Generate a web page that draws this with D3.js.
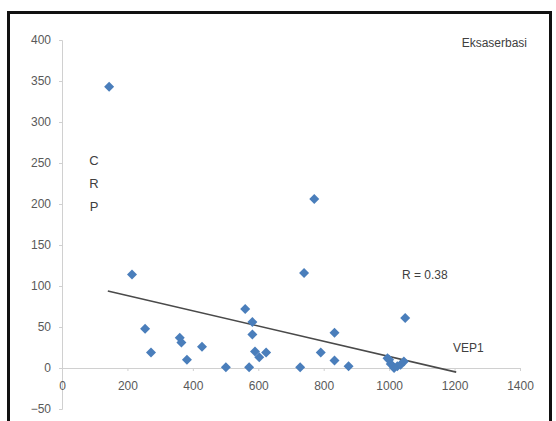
<!DOCTYPE html>
<html><head><meta charset="utf-8">
<script src="https://cdn.jsdelivr.net/npm/d3@7"></script>
<style>html,body{margin:0;padding:0;background:#fff;}svg{display:block;}</style>
</head><body>
<script>
// Data: VEP1 (x) vs CRP (y)
const vep1 = [144, 214, 254, 272, 360, 365, 382, 428, 501, 560, 582, 582, 572, 590, 603, 624, 728, 791, 833, 833, 876, 771, 740, 1049, 995, 1005, 1015, 1025, 1035, 1045, 1000];
const crp  = [343, 114,  48,  19,  37,  31,  10,  26,   1,  72,  56,  41,   1,  20,  13,  19,   1,  19,  43,   9,   2, 206, 116,  61,  12,   5,   0,   2,   4,   8,  10];
const trendX = [140, 1205];
const trendY = [94, -5];
const xTicks = [0, 200, 400, 600, 800, 1000, 1200, 1400];
const yTicks = [-50, 0, 50, 100, 150, 200, 250, 300, 350, 400];

const W = 556, H = 421;
const svg = d3.select("body").append("svg").attr("width", W).attr("height", H);
svg.append("rect").attr("width", W).attr("height", H).attr("fill", "#fff");

const x = d3.scaleLinear().domain([0, 1400]).range([62, 520]);
const y = d3.scaleLinear().domain([-50, 400]).range([409, 40]);
const font = "'Liberation Sans', Arial, sans-serif";
const txt = "#595959";

// outer frame
svg.append("rect").attr("x", 8.5).attr("y", 12.5).attr("width", 542).attr("height", 430)
  .attr("fill", "none").attr("stroke", "#111").attr("stroke-width", 3);

// y axis
const yAxis = d3.axisLeft(y).tickValues(yTicks).tickSize(3).tickPadding(8).tickFormat(d3.format("d"));
const gy = svg.append("g").attr("transform", `translate(${x(0)},0)`).call(yAxis);
gy.select(".domain").attr("stroke", "#d0d0d0");
gy.selectAll(".tick line").attr("stroke", "#d0d0d0");
gy.selectAll("text").attr("fill", txt).attr("font-family", font).attr("font-size", 12).attr("x", -11);

// x axis at y = 0
const xAxis = d3.axisBottom(x).tickValues(xTicks).tickSize(3).tickPadding(0).tickFormat(d3.format("d"));
const gx = svg.append("g").attr("transform", `translate(0,${y(0)})`).call(xAxis);
gx.select(".domain").attr("stroke", "#d0d0d0");
gx.selectAll(".tick line").attr("stroke", "#d0d0d0");
gx.selectAll("text").attr("fill", txt).attr("font-family", font).attr("font-size", 12)
  .attr("y", 22).attr("dy", 0);

// trend line
svg.append("line")
  .attr("x1", x(trendX[0])).attr("y1", y(trendY[0]))
  .attr("x2", x(trendX[1])).attr("y2", y(trendY[1]))
  .attr("stroke", "#4a4a4a").attr("stroke-width", 1.6);

// markers (diamonds)
const pts = vep1.map((v, i) => [v, crp[i]]);
svg.append("g").selectAll("path").data(pts).join("path")
  .attr("transform", d => `translate(${x(d[0])},${y(d[1])})`)
  .attr("d", "M0,-5L5,0L0,5L-5,0Z")
  .attr("fill", "#4a7ebb");

// texts
svg.append("text").attr("x", 527).attr("y", 47).attr("text-anchor", "end")
  .attr("font-family", font).attr("font-size", 12).attr("fill", "#404040").text("Eksaserbasi");
["C", "R", "P"].forEach((c, i) => {
  svg.append("text").attr("x", 94).attr("y", 165 + i * 23).attr("text-anchor", "middle")
    .attr("font-family", font).attr("font-size", 13).attr("fill", "#404040").text(c);
});
svg.append("text").attr("x", 402).attr("y", 279)
  .attr("font-family", font).attr("font-size", 12).attr("fill", "#404040").text("R = 0.38");
svg.append("text").attr("x", 453).attr("y", 352)
  .attr("font-family", font).attr("font-size", 12).attr("fill", "#404040").text("VEP1");
</script>
</body></html>
